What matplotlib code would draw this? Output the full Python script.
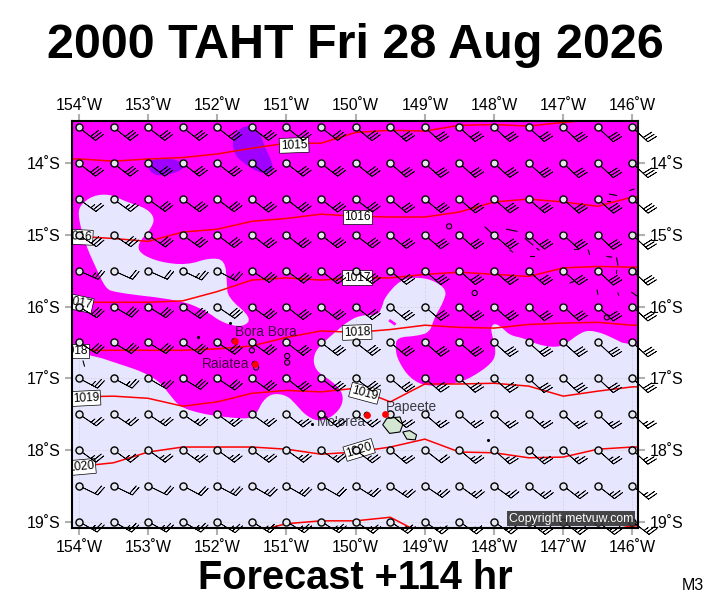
# TAHT forecast map, magenta/lavender rain shading, isobars, wind barbs
import numpy as np
import matplotlib
matplotlib.use("Agg")
import matplotlib.pyplot as plt

plt.rcParams['font.family'] = ['Liberation Sans', 'DejaVu Sans']

# stations
lons = [-154 + 0.5 * i for i in range(17)]
lats = [-13.5, -14, -14.5, -15, -15.5, -16, -16.5, -17, -17.5, -18, -18.5, -19]

# wind speed (kt), one row per lat
speed = [
    [30] * 17,
    [30] * 17,
    [25, 25, 30, 30, 30, 30, 30, 30, 30, 30, 30, 30, 30, 30, 30, 30, 30],
    [30] * 17,
    [25, 20, 20, 25, 25, 30, 30, 30, 30, 30, 30, 30, 30, 30, 30, 30, 30],
    [30] * 17,
    [30] * 17,
    [25, 25, 25, 30, 30, 30, 30, 30, 30, 30, 30, 30, 30, 30, 30, 30, 30],
    [25, 25, 25, 25, 25, 25, 25, 25, 25, 25, 25, 25, 25, 25, 25, 25, 25],
    [25, 25, 25, 25, 25, 25, 25, 25, 25, 25, 20, 25, 25, 25, 25, 25, 25],
    [20, 20, 20, 20, 25, 25, 25, 20, 25, 25, 25, 25, 25, 25, 25, 25, 25],
    [25] * 17,
]
# direction wind comes from (deg)
wind_from = [
    [128, 128, 128, 128, 128, 128, 128, 128, 129, 131, 132, 132, 132, 132, 133, 133, 133],
    [128, 128, 128, 128, 128, 128, 128, 128, 129, 131, 132, 132, 132, 132, 133, 133, 133],
    [126, 126, 126, 127, 127, 128, 128, 128, 128, 130, 130, 131, 131, 131, 132, 132, 132],
    [124, 124, 125, 126, 127, 128, 128, 128, 128, 130, 131, 131, 131, 132, 132, 133, 133],
    [114, 114, 114, 116, 118, 124, 126, 128, 128, 130, 131, 131, 131, 132, 132, 133, 133],
    [122, 120, 122, 124, 124, 126, 128, 128, 128, 130, 131, 131, 131, 132, 132, 133, 133],
    [122, 122, 122, 124, 124, 126, 128, 128, 128, 130, 131, 131, 132, 132, 132, 133, 133],
    [118, 118, 120, 122, 124, 126, 128, 128, 128, 130, 131, 132, 132, 133, 133, 133, 133],
    [124, 124, 124, 124, 126, 126, 128, 128, 128, 130, 131, 131, 132, 132, 133, 133, 133],
    [126, 126, 126, 126, 126, 126, 126, 126, 128, 130, 128, 130, 132, 132, 132, 132, 133],
    [116, 116, 116, 118, 118, 120, 120, 120, 122, 124, 124, 126, 126, 128, 128, 128, 130],
    [120, 120, 120, 120, 122, 122, 122, 122, 124, 124, 126, 126, 126, 128, 128, 128, 128],
]

# isobars, lat at every 0.5 deg of lon
p1015 = [-13.94, -13.97, -13.94, -13.92, -13.87, -13.79, -13.72, -13.72, -13.57, -13.54, -13.55, -13.47, -13.46, -13.48, -13.43, -13.39, -13.36]
p1016 = [-15.02, -15.05, -15.09, -14.96, -14.92, -14.81, -14.77, -14.71, -14.74, -14.75, -14.75, -14.68, -14.54, -14.50, -14.54, -14.60, -14.47]
p1017 = [-15.94, -15.94, -15.94, -15.92, -15.79, -15.63, -15.60, -15.63, -15.60, -15.60, -15.55, -15.52, -15.55, -15.58, -15.46, -15.44, -15.45]
p1018 = [-16.61, -16.61, -16.61, -16.61, -16.59, -16.55, -16.43, -16.34, -16.36, -16.32, -16.26, -16.29, -16.30, -16.25, -16.23, -16.22, -16.26]
p1019 = [-17.26, -17.25, -17.28, -17.39, -17.33, -17.21, -17.17, -17.19, -17.14, -17.33, -17.08, -17.08, -17.07, -17.11, -17.25, -17.18, -17.12]
p1020 = [-18.23, -18.18, -18.03, -17.96, -17.96, -17.96, -17.99, -18.06, -18.03, -17.96, -17.85, -18.03, -18.04, -18.11, -18.10, -17.99, -17.96]
nan = float('nan')
p1021 = [nan, nan, nan, nan, nan, -19.15, -19.03, -18.99, -18.99, -18.94, -19.19, nan, nan, nan, nan, -19.15, -19.06]
isobars = [p1015, p1016, p1017, p1018, p1019, p1020, p1021]

# contour labels: text, lon, lat, rotation
label_text = ['1015', '1016', '1016', '1017', '1017', '1018', '1018', '1019', '1019', '1020', '1020']
label_lon = [-150.89, -149.97, -154.01, -154.01, -149.98, -154.06, -149.98, -153.90, -149.87, -153.97, -149.95]
label_lat = [-13.75, -14.75, -15.03, -15.95, -15.60, -16.62, -16.36, -17.28, -17.21, -18.24, -18.00]
label_rot = [2, 0, -3, -12, 0, 0, 2, 3, -15, 5, 17]

# rain shading outlines
rain_lon = [-156.0, -144.0, -144.0, -146.08, -146.28, -146.47, -146.66, -146.80, -146.95, -147.09, -147.34, -147.58, -147.77, -147.89, -147.99, -148.05, -148.02, -147.97, -148.03, -148.31, -148.54, -148.97, -149.22, -149.39, -149.43, -149.40, -149.12, -148.93, -148.86, -148.74, -148.68, -148.88, -149.12, -149.36, -149.58, -149.62, -149.68, -149.94, -150.13, -150.30, -150.56, -150.62, -150.56, -150.33, -150.18, -150.20, -150.37, -150.56, -150.73, -150.85, -150.99, -151.20, -151.34, -151.43, -151.53, -151.92, -152.25, -152.54, -152.68, -152.83, -153.08, -153.45, -153.80, -156.0]
rain_lat = [-11.0, -11.0, -16.70, -16.54, -16.44, -16.36, -16.33, -16.40, -16.51, -16.57, -16.54, -16.44, -16.40, -16.29, -16.23, -16.29, -16.43, -16.64, -16.79, -16.98, -17.07, -17.12, -17.00, -16.75, -16.57, -16.43, -16.41, -16.36, -16.15, -15.95, -15.77, -15.63, -15.59, -15.63, -15.87, -16.01, -16.12, -16.12, -16.22, -16.36, -16.58, -16.75, -16.91, -17.05, -17.21, -17.40, -17.56, -17.60, -17.51, -17.38, -17.24, -17.21, -17.31, -17.49, -17.57, -17.54, -17.49, -17.40, -17.24, -17.05, -16.91, -16.79, -16.68, -16.25]
dry_lon = [-153.80, -153.55, -153.31, -153.02, -152.90, -152.97, -153.15, -153.12, -152.83, -152.44, -152.11, -151.89, -151.86, -151.85, -151.50, -151.63, -151.92, -152.18, -152.54, -153.51, -153.62, -153.74, -153.91, -154.01, -153.99]
dry_lat = [-14.45, -14.43, -14.54, -14.63, -14.77, -14.93, -15.12, -15.26, -15.38, -15.42, -15.32, -15.35, -15.67, -15.87, -16.16, -16.29, -16.23, -16.05, -15.91, -15.80, -15.73, -15.49, -15.12, -14.75, -14.59]
heavy1_lon = [-151.79, -151.67, -151.50, -151.38, -151.31, -151.20, -151.20, -151.38, -151.57, -151.75]
heavy1_lat = [-13.68, -13.50, -13.47, -13.58, -13.78, -14.00, -14.13, -14.14, -14.03, -13.89]
heavy2_lon = [-153.02, -152.90, -152.64, -152.44, -152.58, -152.83, -152.97]
heavy2_lat = [-14.00, -13.93, -13.93, -14.03, -14.13, -14.18, -14.13]

# land
tahiti_lon = [-149.61, -149.55, -149.36, -149.32, -149.36, -149.51]
tahiti_lat = [-17.65, -17.56, -17.54, -17.65, -17.75, -17.77]
taiarapu_lon = [-149.32, -149.22, -149.12, -149.14, -149.26]
taiarapu_lat = [-17.75, -17.73, -17.79, -17.86, -17.85]
ring_lon = [-148.65, -148.28, -146.37, -151.50, -151.44, -150.99, -150.99, -151.75, -149.84, -151.46]
ring_lat = [-14.88, -15.81, -16.15, -16.61, -16.85, -16.69, -16.78, -16.48, -17.51, -16.80]
speck_lon = [-152.28, -151.82, -150.63, -148.09]
speck_lat = [-16.43, -16.23, -17.64, -17.86]
town_lon = [-151.75, -151.46, -149.58, -149.84]
town_lat = [-16.48, -16.80, -17.50, -17.51]
atolls = [
    ([-148.13, -148.03], [-14.89, -14.98]),
    ([-147.82, -147.67], [-14.92, -14.95]),
    ([-147.55, -147.44], [-15.05, -15.14]),
    ([-147.38, -147.35], [-15.19, -15.21]),
    ([-147.77, -147.73], [-15.21, -15.24]),
    ([-147.48, -147.42], [-15.30, -15.30]),
    ([-146.64, -146.62], [-15.21, -15.27]),
    ([-146.85, -146.79], [-15.19, -15.19]),
    ([-146.33, -146.23], [-14.43, -14.45]),
    ([-146.37, -146.33], [-14.52, -14.52]),
    ([-146.04, -145.98], [-14.38, -14.36]),
    ([-146.37, -146.30], [-15.30, -15.31]),
    ([-146.23, -146.21], [-15.32, -15.42]),
    ([-146.24, -146.24], [-15.49, -15.53]),
    ([-146.90, -146.85], [-15.67, -15.65]),
    ([-146.51, -146.50], [-15.77, -15.83]),
    ([-146.21, -146.20], [-15.81, -15.84]),
    ([-146.01, -145.94], [-15.80, -15.85]),
    ([-153.94, -153.92], [-16.76, -16.83]),
]
place_names = ['Bora Bora', 'Raiatea', "Mo'orea", 'Papeete']
place_lon = [-151.30, -151.88, -150.21, -149.20]
place_lat = [-16.36, -16.80, -17.61, -17.40]

tick_lons = [-154, -153, -152, -151, -150, -149, -148, -147, -146]
tick_lats = [-14, -15, -16, -17, -18, -19]


def smooth(xs, ys, n=2):
    # corner cutting so the outlines look like contours
    p = np.column_stack([xs, ys])
    for _ in range(n):
        q = np.roll(p, -1, axis=0)
        p = np.column_stack([0.75 * p + 0.25 * q, 0.25 * p + 0.75 * q]).reshape(-1, 2)
    return p[:, 0], p[:, 1]


fig = plt.figure(figsize=(7.11, 6.0), dpi=100)
ax = fig.add_axes([72 / 711, 1 - 528 / 600, 566 / 711, 407 / 600])
ax.set_xlim(-154.10, -145.92)
ax.set_ylim(-19.09, -13.41)
ax.set_facecolor('#e6e6ff')

ax.fill(*smooth(rain_lon, rain_lat), color='#ff00ff', lw=0, zorder=1)
ax.fill(*smooth(dry_lon, dry_lat), color='#e6e6ff', lw=0, zorder=1.1)
ax.fill(*smooth(heavy1_lon, heavy1_lat), color='#a000ff', lw=0, zorder=1.1)
ax.fill(*smooth(heavy2_lon, heavy2_lat), color='#a000ff', lw=0, zorder=1.1)
ax.plot([-149.50, -149.44], [-16.20, -16.24], color='#ff00ff', lw=2, zorder=1.2)

# grid only shows on the pale part
ax.grid(True, color='#d4d4e2', lw=0.5, ls='--')
ax.set_axisbelow(True)

# land
ax.fill(tahiti_lon, tahiti_lat, fc='#d2e6d2', ec='black', lw=0.8, zorder=2)
ax.fill(taiarapu_lon, taiarapu_lat, fc='#d2e6d2', ec='black', lw=0.8, zorder=2)
ax.scatter(ring_lon, ring_lat, s=14, facecolors='none', edgecolors='black', lw=0.8, zorder=2)
ax.scatter(speck_lon, speck_lat, s=5, color='black', lw=0, zorder=2)
for xs, ys in atolls:
    ax.plot(xs, ys, color='black', lw=0.8, zorder=2)

# isobars
lon_ext = [-154.5] + lons + [-145.5]
for vals in isobars:
    ax.plot(lon_ext, [vals[0]] + vals + [vals[-1]], color='#ff0000', lw=1.1, zorder=3)
for t, x, y, r in zip(label_text, label_lon, label_lat, label_rot):
    ax.text(x, y, t, fontsize=8.6, rotation=r, ha='center', va='center', zorder=4, clip_on=True,
            bbox=dict(boxstyle='square,pad=0.12', fc='white', ec='black', lw=0.5))

# wind
X, Y = np.meshgrid(lons, lats)
S = np.array(speed, dtype=float)
D = np.radians(np.array(wind_from, dtype=float))
U = -S * np.sin(D)
V = -S * np.cos(D)
ax.barbs(X, Y, U, V, length=5.5, linewidth=0.55, color='black', flip_barb=True, pivot='tip',
         sizes=dict(height=0.46, spacing=0.15, width=0.25), zorder=5, clip_on=False)
ax.scatter(X.ravel(), Y.ravel(), s=26, facecolors='#e6e6ee', edgecolors='black', lw=1.0, zorder=6)

# towns
ax.scatter(town_lon, town_lat, s=24, color='#ff0000', lw=0, zorder=7)
for name, x, y in zip(place_names, place_lon, place_lat):
    ax.text(x, y, name, fontsize=9.8, color='black', alpha=0.75, ha='center', va='center', zorder=7)

ax.text(-146.89, -18.96, 'Copyright metvuw.com', fontsize=8.8, color='white', ha='center', va='center', zorder=9,
        bbox=dict(boxstyle='square,pad=0.12', fc='#333333', ec='none', alpha=0.9))

# frame and ticks
for s in ax.spines.values():
    s.set_linewidth(1.5)
    s.set_zorder(8)
ax.set_xticks(tick_lons)
ax.set_yticks(tick_lats)
ax.set_xticklabels(['%d˚W' % -v for v in tick_lons])
ax.set_yticklabels(['%d˚S' % -v for v in tick_lats])
ax.tick_params(axis='both', length=5, width=1.5, color='#b0b0b0', labelsize=11.5, pad=3.5,
               top=True, right=True, labeltop=False, labelright=True)
for v in tick_lons:
    ax.annotate('%d˚W' % -v, (v, 1), xycoords=('data', 'axes fraction'), xytext=(0, 16), textcoords='offset pixels',
                ha='center', va='center', fontsize=11.5)

fig.text(355 / 711, 1 - 46 / 600, '2000 TAHT Fri 28 Aug 2026', fontsize=34.9, fontweight='bold', ha='center', va='center')
fig.text(355 / 711, 1 - 578 / 600, 'Forecast +114 hr', fontsize=28.6, fontweight='bold', ha='center', va='center')
fig.text(693 / 711, 1 - 585 / 600, 'M3', fontsize=11.5, ha='center', va='center')

fig.savefig('out.png', dpi=100)
